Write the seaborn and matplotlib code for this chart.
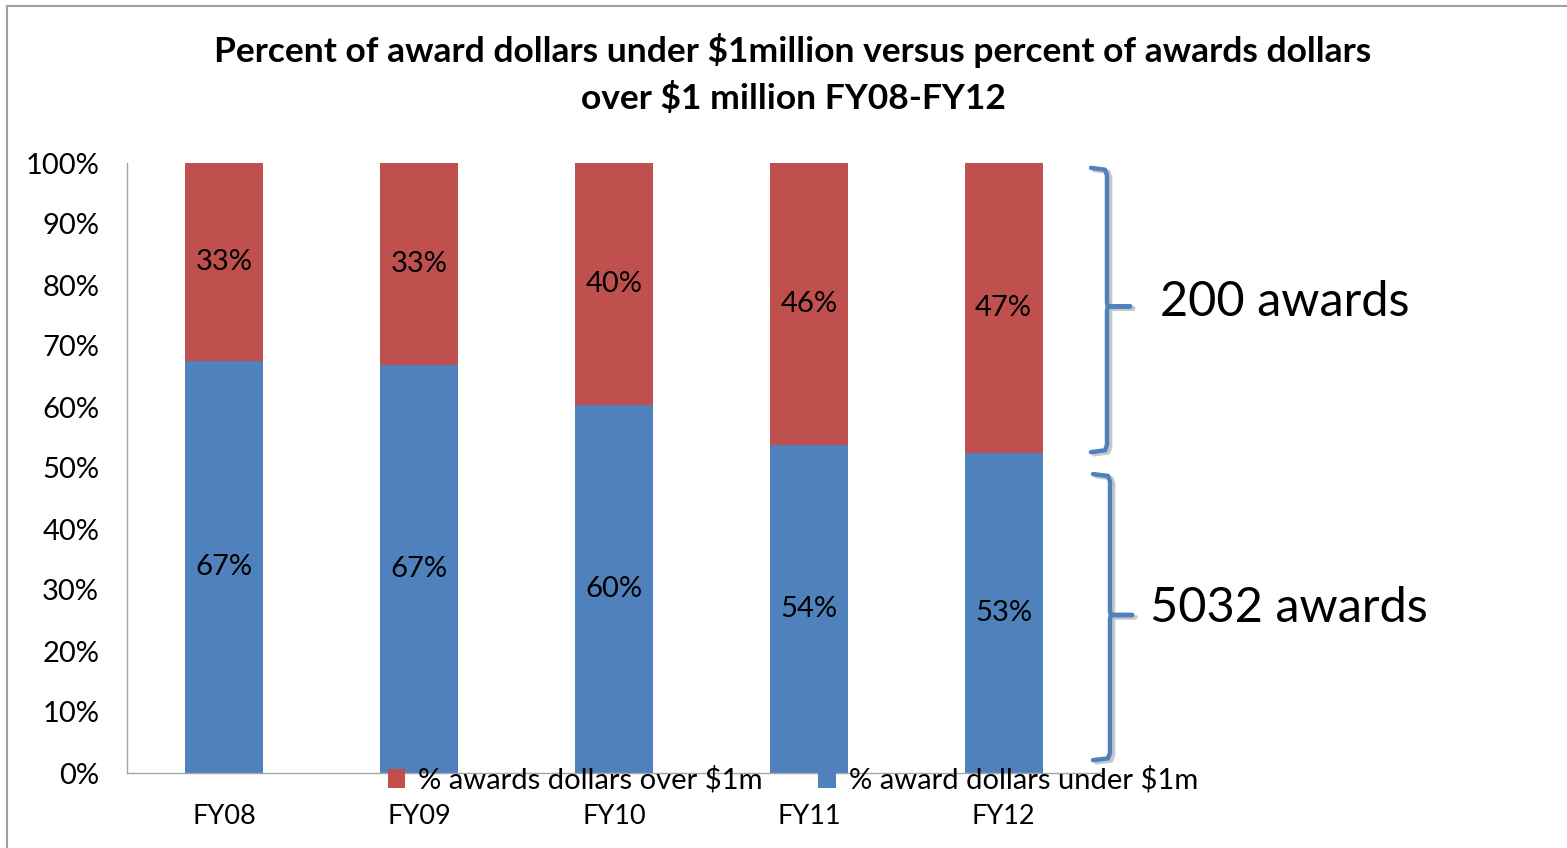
import matplotlib
matplotlib.use("Agg")
import matplotlib.pyplot as plt
import seaborn as sns
import pandas as pd
from matplotlib.lines import Line2D
from matplotlib.patches import Rectangle, Patch
import matplotlib.transforms as mtransforms

years = ["FY08", "FY09", "FY10", "FY11", "FY12"]
under_pct = [67.5, 66.9, 60.3, 53.8, 52.5]
over_pct = [32.5, 33.1, 39.7, 46.2, 47.5]
under_labels = ["67%", "67%", "60%", "54%", "53%"]
over_labels = ["33%", "33%", "40%", "46%", "47%"]
series_names = ["% awards dollars over $1m", "% award dollars under $1m"]
brace_texts = ["200 awards", "5032 awards"]
yticks = list(range(0, 101, 10))
ytick_labels = [f"{t}%" for t in yticks]

BLUE = "#4F81BD"
RED = "#C0504D"

sns.set_theme(style="white")
plt.rcParams["font.family"] = ["Lato", "DejaVu Sans"]
plt.rcParams["text.color"] = "black"
plt.rcParams["xtick.color"] = "black"
plt.rcParams["ytick.color"] = "black"

df = pd.DataFrame({"year": years, "under": under_pct, "over": over_pct})
df["total"] = df["under"] + df["over"]

fig = plt.figure(figsize=(15.67, 8.48), dpi=100)
ax = fig.add_axes([127 / 1567, 1 - 773 / 848, (1101 - 127) / 1567, (773 - 163) / 848])

sns.barplot(data=df, x="year", y="total", color=RED, width=0.4, ax=ax,
            saturation=1, edgecolor="none")
sns.barplot(data=df, x="year", y="under", color=BLUE, width=0.4, ax=ax,
            saturation=1, edgecolor="none")

for i in range(len(years)):
    ax.text(i, under_pct[i] / 2, under_labels[i], ha="center", va="center",
            fontsize=21, color="black")
    ax.text(i, under_pct[i] + over_pct[i] / 2, over_labels[i], ha="center",
            va="center", fontsize=21, color="black")

ax.set_xlim(-0.5, 4.5)
ax.set_ylim(0, 100)
ax.set_yticks(yticks)
ax.set_yticklabels(ytick_labels, fontsize=21)
ax.set_xlabel("")
ax.set_ylabel("")
ax.tick_params(axis="x", length=0, pad=22, labelsize=19.5, colors="black")
ax.tick_params(axis="y", length=0, pad=20, labelsize=21, colors="black")
for s in ["top", "right"]:
    ax.spines[s].set_visible(False)
for s in ["left", "bottom"]:
    ax.spines[s].set_color("#A6A6A6")
    ax.spines[s].set_linewidth(1.0)

# braces (x in figure fraction, y in data units)
trans = mtransforms.blended_transform_factory(fig.transFigure, ax.transData)
W = 1567.0

def brace(x, x_tip, x_mid, y_top, y_mid, y_bot):
    xs = [x_tip / W, (x - 2) / W, x / W, x / W, (x + 1) / W, x_mid / W, (x + 1) / W, x / W, x / W, (x - 2) / W, x_tip / W]
    ys = [y_top, y_top - 0.3, y_top - 1.2, y_mid + 0.6, y_mid, y_mid, y_mid, y_mid - 0.6, y_bot + 1.2, y_bot + 0.3, y_bot]
    for dx, dy, col in [(0.002, -0.35, "#C8C8C8"), (0, 0, BLUE)]:
        ax.add_line(Line2D([v + dx for v in xs], [v + dy for v in ys], transform=trans,
                           color=col, lw=3.2, solid_capstyle="round",
                           solid_joinstyle="round", clip_on=False, zorder=5))

brace(1107, 1091, 1130, 99.2, 76.5, 52.6)
brace(1110, 1093, 1132, 49.0, 25.9, 2.1)

fig.text(1160 / W, 1 - 302 / 848, brace_texts[0], fontsize=35, ha="left", va="center")
fig.text(1150 / W, 1 - 608 / 848, brace_texts[1], fontsize=35, ha="left", va="center")

# title
fig.text(793 / W, 1 - 74 / 848,
         "Percent of award dollars under $1million versus percent of awards dollars\nover $1 million FY08-FY12",
         fontsize=25.5, fontweight="bold", ha="center", va="center", linespacing=1.55)

# legend
handles = [Patch(facecolor=RED, edgecolor="none"), Patch(facecolor=BLUE, edgecolor="none")]
fig.legend(handles, series_names, loc="center", bbox_to_anchor=(793 / W, 1 - 780 / 848),
           ncol=2, frameon=False, fontsize=21, handlelength=0.6, handleheight=0.6,
           handletextpad=0.45, columnspacing=1.9, borderpad=0, borderaxespad=0)

# outer frame
fig.patches.append(Rectangle((7 / W, -0.1), 1.2, 1 - 6 / 848 + 0.1, transform=fig.transFigure,
                             fill=False, edgecolor="#A0A0A0", lw=1.5, clip_on=False))

fig.savefig("out.png", dpi=100)
